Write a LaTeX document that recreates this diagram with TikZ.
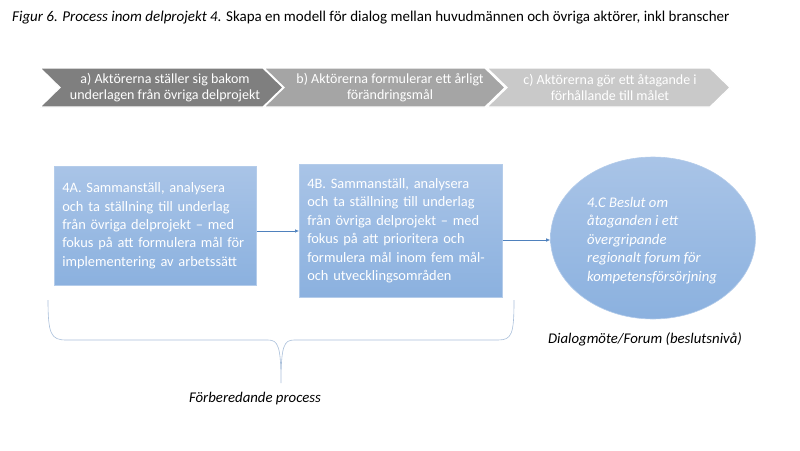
\documentclass[tikz,border=0pt]{standalone}
\usepackage{fontspec}
\setmainfont{Carlito}
\usetikzlibrary{shapes.geometric,arrows.meta}
\definecolor{chevA}{HTML}{7F7F7F}
\definecolor{chevB}{HTML}{A5A5A5}
\definecolor{chevC}{HTML}{C9C9C9}
\definecolor{boxtop}{HTML}{A9C4E7}
\definecolor{boxbot}{HTML}{8BB1DF}
\definecolor{boxedge}{HTML}{B4CCEA}
\definecolor{arrowblue}{HTML}{4F81BD}
\definecolor{bracecol}{HTML}{A9BFDA}
\tikzset{
  chevtext/.style={text=white,font=\fontsize{14}{16.5}\selectfont,align=center,inner sep=0pt},
  chevshape/.style={draw=white,line width=1.2pt},
  procbox/.style={draw=boxedge,line width=0.6pt,top color=boxtop,bottom color=boxbot,text=white,
    font=\fontsize{14.4}{18.4}\selectfont,align=left,inner xsep=8pt,anchor=north west},
  flowarrow/.style={draw=arrowblue,line width=0.6pt,-{Latex[length=4pt,width=3.5pt]}},
  captext/.style={font=\fontsize{14.8}{17}\selectfont\itshape,inner sep=0pt}
}
\begin{document}
\begin{tikzpicture}[x=1pt,y=-1pt]
\useasboundingbox (0,0) rectangle (800,450);
% title
\node[anchor=base west,inner sep=0pt,font=\fontsize{15}{17}\selectfont] (title) at (12,21)
  {\itshape Figur 6. Process inom delprojekt 4.\upshape{} Skapa en modell för dialog mellan huvudmännen och övriga aktörer, inkl branscher};
% chevrons
\fill[chevC,chevshape] (487,68) -- (710,68) -- (730,87.5) -- (710,107) -- (487,107) -- (507,87.5) -- cycle;
\fill[chevB,chevshape] (264,68) -- (485,68) -- (505,87.5) -- (485,107) -- (264,107) -- (284,87.5) -- cycle;
\fill[chevA,chevshape] (40,68) -- (263,68) -- (283,87.5) -- (263,107) -- (40,107) -- (60,87.5) -- cycle;
\node[chevtext] (ca) at (165,87.5) {a) Aktörerna ställer sig bakom\\underlagen från övriga delprojekt};
\node[chevtext] (cb) at (390,87.5) {b) Aktörerna formulerar ett årligt\\förändringsmål};
\node[chevtext] (cc) at (610,87.5) {c) Aktörerna gör ett åtagande i\\förhållande till målet};
% boxes
\node[procbox,minimum width=202pt,minimum height=119pt,text width=186pt] (b4a) at (54,166)
  {4A. Sammanställ, analysera\\och ta ställning till underlag\\från övriga delprojekt – med\\fokus på att formulera mål för\\implementering av arbetssätt};
\node[procbox,minimum width=203pt,minimum height=133pt,text width=187pt] (b4b) at (299,164)
  {4B. Sammanställ, analysera\\och ta ställning till underlag\\från övriga delprojekt – med\\fokus på att prioritera och\\formulera mål inom fem mål-\\och utvecklingsområden};
\node[ellipse,draw=boxedge,line width=0.6pt,top color=boxtop,bottom color=boxbot,
  minimum width=205pt,minimum height=162pt,inner sep=0pt] (c4) at (653,238) {};
\node[anchor=north west,text=white,align=left,inner sep=0pt,
  font=\fontsize{14.7}{18.4}\selectfont\itshape] (c4t) at (587,197)
  {4.C Beslut om\\åtaganden i ett\\övergripande\\regionalt forum för\\kompetensförsörjning};
% arrows
\draw[flowarrow] (b4a.east |- 0,231) -- (b4b.west |- 0,231);
\draw[flowarrow] (b4b.east |- 0,240) -- (c4.west |- 0,240);
% labels
\node[captext] (dlab) at (645,339) {Dialogmöte/Forum (beslutsnivå)};
\node[captext] (flab) at (255,399) {Förberedande process};
% brace
\draw[bracecol,line width=0.6pt] (48,300) .. controls (48,334) and (51,340) .. (66,340) -- (268,340)
  .. controls (278,340) and (281,346) .. (281,383)
  .. controls (281,346) and (284,340) .. (294,340) -- (498,340)
  .. controls (512,340) and (514,334) .. (514,300);
\end{tikzpicture}
\end{document}
